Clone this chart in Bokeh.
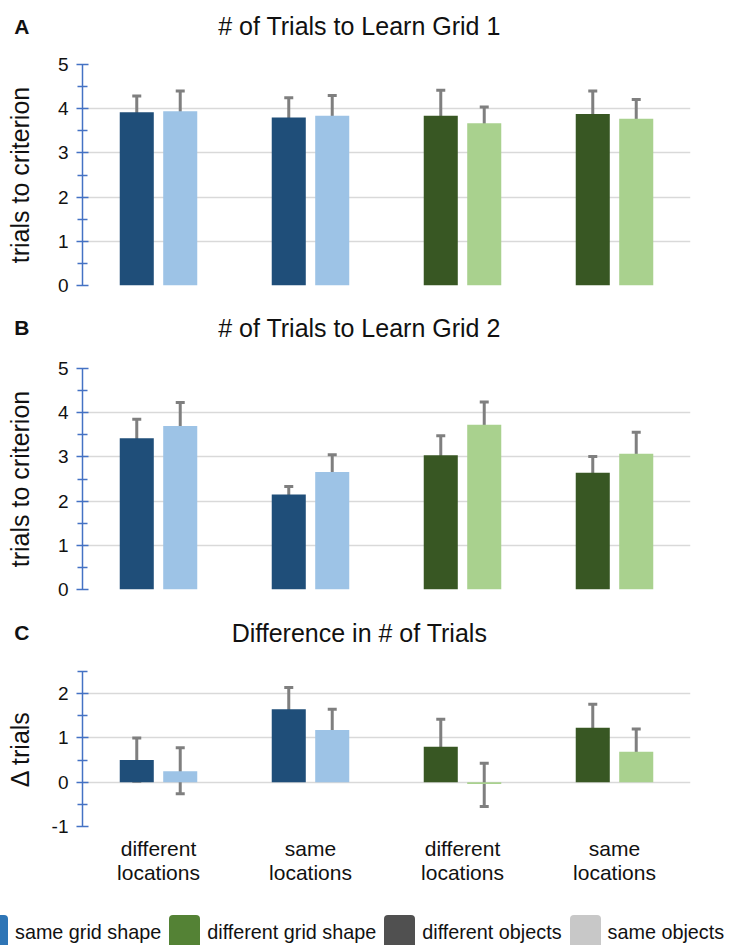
from bokeh.plotting import figure
from bokeh.models import (Range1d, FixedTicker, ColumnDataSource, Whisker, TeeHead,
                          Label, Div)
from bokeh.layouts import column
from bokeh.embed import file_html
from bokeh.resources import INLINE

# ---------------- data ----------------
group_pos = [1, 2, 3, 4]
group_labels = ["different\nlocations", "same\nlocations", "different\nlocations", "same\nlocations"]

# Panel A: # of trials to learn grid 1
a_diff_obj = [3.92, 3.80, 3.84, 3.88]
a_diff_obj_lo = [3.55, 3.38, 3.29, 3.38]
a_diff_obj_hi = [4.29, 4.25, 4.42, 4.40]
a_same_obj = [3.94, 3.84, 3.67, 3.77]
a_same_obj_lo = [3.51, 3.40, 3.31, 3.35]
a_same_obj_hi = [4.40, 4.30, 4.04, 4.21]

# Panel B: # of trials to learn grid 2
b_diff_obj = [3.42, 2.15, 3.04, 2.64]
b_diff_obj_lo = [3.01, 1.97, 2.60, 2.31]
b_diff_obj_hi = [3.85, 2.33, 3.48, 3.01]
b_same_obj = [3.70, 2.66, 3.73, 3.07]
b_same_obj_lo = [3.19, 2.29, 3.26, 2.59]
b_same_obj_hi = [4.23, 3.05, 4.24, 3.56]

# Panel C: difference in # of trials
c_diff_obj = [0.50, 1.65, 0.80, 1.23]
c_diff_obj_lo = [0.02, 1.19, 0.20, 0.70]
c_diff_obj_hi = [1.00, 2.14, 1.42, 1.76]
c_same_obj = [0.25, 1.18, -0.04, 0.69]
c_same_obj_lo = [-0.26, 0.72, -0.55, 0.20]
c_same_obj_hi = [0.78, 1.65, 0.43, 1.20]

ab_ticks = [0, 1, 2, 3, 4, 5]
ab_minor = [0.5, 1.5, 2.5, 3.5, 4.5]
c_ticks = [-1, 0, 1, 2]
c_minor = [-0.5, 0.5, 1.5, 2.5]
c_tick_labels = {-1: "-1", 0: "0", 1: "1", 2: "2"}

legend_labels = ["same grid shape", "different grid shape", "different objects", "same objects"]
legend_colors = ["#2E75B6", "#548235", "#505050", "#C8C8C8"]

dark_colors = ["#1F4E79", "#1F4E79", "#385723", "#385723"]
light_colors = ["#9DC3E6", "#9DC3E6", "#A9D18E", "#A9D18E"]

FONT = "Liberation Sans"
TXT = "#111111"
AXIS_BLUE = "#4472C4"
ERR = "#7F7F7F"
BAR_W = 0.224
OFF = 0.143
FIG_W = 729
FRAME_LEFT = 82
FRAME_W = 608
FRAME_RIGHT = FIG_W - FRAME_LEFT - FRAME_W


def header(letter, title, h, b_top, ty):
    p = figure(width=FIG_W, height=h, output_backend="svg", toolbar_location=None,
               x_range=Range1d(0, 1), y_range=Range1d(0, 1), x_axis_type=None,
               min_border_left=FRAME_LEFT, min_border_right=FRAME_RIGHT,
               min_border_top=b_top, min_border_bottom=0)
    p.outline_line_color = None
    p.xgrid.visible = False
    p.ygrid.visible = False
    yax = p.yaxis[0]
    yax.ticker = FixedTicker(ticks=[])
    yax.axis_line_color = None
    yax.major_tick_line_color = None
    yax.minor_tick_line_color = None
    yax.major_tick_out = 0
    yax.major_tick_in = 0
    yax.major_label_standoff = 0
    yax.axis_label = letter
    yax.axis_label_orientation = "horizontal"
    yax.axis_label_standoff = 53
    yax.axis_label_text_font = FONT
    yax.axis_label_text_font_size = "21px"
    yax.axis_label_text_font_style = "bold"
    yax.axis_label_text_color = TXT
    p.add_layout(Label(x=277, y=ty, x_units="screen", y_units="screen", text=title,
                       text_align="center", text_baseline="middle", text_font=FONT,
                       text_font_size="25px", text_color=TXT))
    return p


def make_panel(ylabel, dvals, dlo, dhi, lvals, llo, lhi,
               yr, ticks, minor, fig_h, b_top, frame_h, lab_standoff, show_x=False):
    b_bottom = fig_h - b_top - frame_h
    p = figure(width=FIG_W, height=fig_h, output_backend="svg", toolbar_location=None,
               x_range=Range1d(0.5, 4.5), y_range=Range1d(*yr),
               min_border_left=FRAME_LEFT, min_border_right=FRAME_RIGHT,
               min_border_top=b_top, min_border_bottom=b_bottom)
    p.outline_line_color = None
    p.xgrid.grid_line_color = None
    p.ygrid.grid_line_color = "#D9D9D9"
    p.ygrid.grid_line_width = 1.6

    xd = [x - OFF for x in group_pos]
    xl = [x + OFF for x in group_pos]
    p.vbar(x=xd, top=dvals, bottom=0, width=BAR_W, fill_color=dark_colors, line_color=None)
    p.vbar(x=xl, top=lvals, bottom=0, width=BAR_W, fill_color=light_colors, line_color=None)

    for xs, lo, hi in ((xd, dlo, dhi), (xl, llo, lhi)):
        src = ColumnDataSource(dict(base=xs, lower=lo, upper=hi))
        w = Whisker(base="base", lower="lower", upper="upper", source=src,
                    line_color=ERR, line_width=3,
                    upper_head=TeeHead(size=9, line_color=ERR, line_width=3),
                    lower_head=TeeHead(size=9, line_color=ERR, line_width=3))
        p.add_layout(w)

    yax = p.yaxis[0]
    yax.ticker = FixedTicker(ticks=ticks, minor_ticks=minor)
    yax.axis_line_color = AXIS_BLUE
    yax.axis_line_width = 1.5
    yax.major_tick_line_color = AXIS_BLUE
    yax.minor_tick_line_color = AXIS_BLUE
    yax.major_tick_line_width = 1.5
    yax.minor_tick_line_width = 1.5
    yax.major_tick_in = 6
    yax.major_tick_out = 6
    yax.minor_tick_in = 5
    yax.minor_tick_out = 5
    yax.major_label_standoff = 8
    yax.major_label_text_font = FONT
    yax.major_label_text_font_size = "19px"
    yax.major_label_text_color = TXT
    yax.axis_label = ylabel
    yax.axis_label_text_font = FONT
    yax.axis_label_text_font_size = "25px"
    yax.axis_label_text_font_style = "normal"
    yax.axis_label_text_color = TXT
    yax.axis_label_standoff = lab_standoff

    xax = p.xaxis[0]
    if show_x:
        xax.ticker = FixedTicker(ticks=group_pos)
        xax.major_label_overrides = {k: v for k, v in zip(group_pos, group_labels)}
        xax.axis_line_color = None
        xax.major_tick_line_color = None
        xax.minor_tick_line_color = None
        xax.major_tick_out = 0
        xax.major_tick_in = 0
        xax.major_label_standoff = 10
        xax.major_label_text_font = FONT
        xax.major_label_text_font_size = "21px"
        xax.major_label_text_line_height = 1.08
        xax.major_label_text_color = TXT
    else:
        xax.visible = False
    return p


ha = header("A", "# of Trials to Learn Grid 1", 44, 7, 18.5)
pa = make_panel("trials to criterion",
                a_diff_obj, a_diff_obj_lo, a_diff_obj_hi, a_same_obj, a_same_obj_lo, a_same_obj_hi,
                (0, 5), ab_ticks, ab_minor, 256, 20, 221, 21)
hb = header("B", "# of Trials to Learn Grid 2", 48, 6, 21)
pb = make_panel("trials to criterion",
                b_diff_obj, b_diff_obj_lo, b_diff_obj_hi, b_same_obj, b_same_obj_lo, b_same_obj_hi,
                (0, 5), ab_ticks, ab_minor, 257, 20, 221, 21)
hc = header("C", "Difference in # of Trials", 46, 8, 19)
pc = make_panel("\u0394 trials",
                c_diff_obj, c_diff_obj_lo, c_diff_obj_hi, c_same_obj, c_same_obj_lo, c_same_obj_hi,
                (-1, 2.5), c_ticks, c_minor, 259, 20, 155, 15, show_x=True)
pc.yaxis[0].major_label_overrides = c_tick_labels

# legend strip (HTML keys: colour swatch + label)
swatch = ('<span style="display:inline-block;flex:none;width:31px;height:34px;'
          'border-radius:4px;background:{c};margin-right:7px"></span>')
lab_html = '<span style="flex:none;margin-right:8px">{t}</span>'
items_html = "".join(swatch.format(c=c) + lab_html.format(t=t)
                     for t, c in zip(legend_labels, legend_colors))
legend_div = Div(
    text=('<div style="position:absolute;left:-23px;top:5px;display:flex;align-items:center;'
          'white-space:nowrap;font-family:\'Liberation Sans\';font-size:19.8px;'
          'color:#111111;line-height:34px">' + items_html + '</div>'),
    width=FIG_W, height=35, margin=0,
    styles={"overflow": "visible", "position": "relative"})

layout = column(ha, pa, hb, pb, hc, pc, legend_div, spacing=0)
open("out.html", "w").write(file_html(layout, INLINE))
